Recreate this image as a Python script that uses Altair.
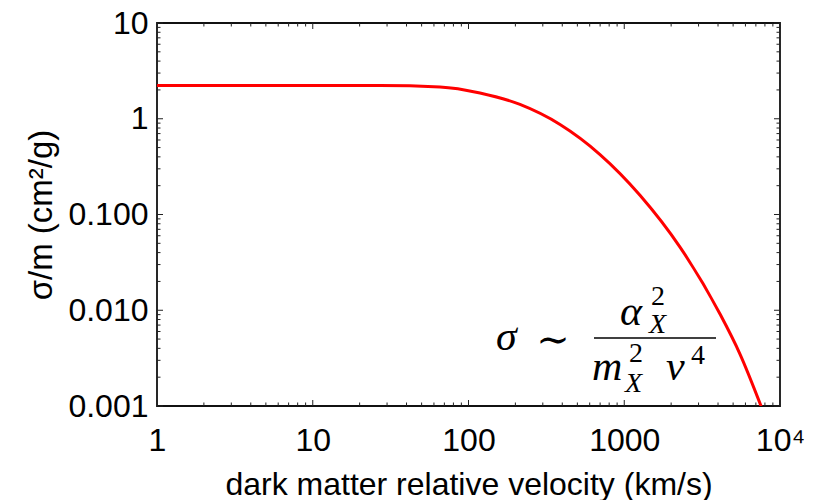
import altair as alt
import pandas as pd

# ---- data ----
velocity = [1, 10, 27, 65.6, 118.5, 214, 387, 699, 1262, 2280, 4119, 5534, 7597]
sigma = [2.22, 2.22, 2.22, 2.15, 1.86, 1.41, 0.871, 0.423, 0.159, 0.0457,
         0.00914, 0.00349, 0.000976]

x_major = [1, 10, 100, 1000, 10000]
y_major = [0.001, 0.01, 0.1, 1, 10]
x_minor = [m * d for d in [1, 10, 100, 1000] for m in range(2, 10)]
y_minor = [m * d for d in [0.001, 0.01, 0.1, 1] for m in range(2, 10)]

W, H = 623, 383
L, T = 157, 23

df = pd.DataFrame({"v": velocity, "s": sigma})
xs = alt.Scale(type="log", domain=[1, 10000], nice=False)
ys = alt.Scale(type="log", domain=[0.001, 10], nice=False)

FONT = "Liberation Sans"
MATH = "Liberation Serif, DejaVu Serif"

XENC = alt.X("v:Q", scale=xs, axis=alt.Axis(
    values=x_major, ticks=False, tickSize=0, domain=False, grid=False,
    labelFont=FONT, labelFontSize=32, labelColor="black",
    labelPadding=44, labelBaseline="alphabetic", labelFlush=False,
    labelExpr="datum.value == 10000 ? '10⁴' : format(datum.value, 'd')",
    title="dark matter relative velocity (km/s)", titleFont=FONT,
    titleFontSize=32, titleFontWeight="normal", titleColor="black",
    titleBaseline="alphabetic", titleY=88))
YENC = alt.Y("s:Q", scale=ys, axis=alt.Axis(
    values=y_major, ticks=False, tickSize=0, domain=False, grid=False,
    labelFont=FONT, labelFontSize=32, labelColor="black",
    labelPadding=9, labelFlush=False,
    labelExpr="datum.value >= 1 ? format(datum.value, 'd') : format(datum.value, '.3f')",
    title="σ/m (cm²/g)", titleFont=FONT, titleFontSize=33,
    titleFontWeight="normal", titleColor="black",
    titleBaseline="alphabetic", titleX=-106))

line = alt.Chart(df).mark_line(color="#ff0000", strokeWidth=3, clip=True,
                               interpolate="monotone").encode(x=XENC, y=YENC)

TICK = "#222"

def xticks(vals, length):
    d = pd.DataFrame({"v": vals})
    bot = alt.Chart(d).mark_rule(color=TICK, strokeWidth=1).encode(
        x=XENC, y=alt.value(H), y2=alt.value(H - length))
    top = alt.Chart(d).mark_rule(color=TICK, strokeWidth=1).encode(
        x=XENC, y=alt.value(0), y2=alt.value(length))
    return [bot, top]

def yticks(vals, length):
    d = pd.DataFrame({"s": vals})
    left = alt.Chart(d).mark_rule(color=TICK, strokeWidth=1).encode(
        y=YENC, x=alt.value(0), x2=alt.value(length))
    right = alt.Chart(d).mark_rule(color=TICK, strokeWidth=1).encode(
        y=YENC, x=alt.value(W), x2=alt.value(W - length))
    return [left, right]

ticks = xticks(x_major, 6) + xticks(x_minor, 3.5) + yticks(y_major, 6) + yticks(y_minor, 3.5)

def piece(text, px, py, size, italic=True, align="left", baseline="alphabetic"):
    return alt.Chart(pd.DataFrame({"a": [0]})).mark_text(
        text=text, font=MATH, fontSize=size, fontStyle="italic" if italic else "normal",
        align=align, baseline=baseline, color="black").encode(
        x=alt.value(px - L), y=alt.value(py - T))

formula = [
    piece("σ", 496, 350, 42),
    piece("∼", 553, 341, 40, italic=False, align="center", baseline="middle"),
    piece("α", 620, 325, 42),
    piece("2", 651, 305, 28, italic=False),
    piece("X", 649, 333, 28),
    alt.Chart(pd.DataFrame({"a": [0]})).mark_rule(color="black", strokeWidth=1.6).encode(
        x=alt.value(594 - L), x2=alt.value(716 - L), y=alt.value(338 - T)),
    piece("m", 592, 380, 42),
    piece("2", 629, 362, 28, italic=False),
    piece("X", 625, 392, 28),
    piece("v", 666, 380, 42),
    piece("4", 691, 364, 28, italic=False),
]

chart = alt.layer(line, *ticks, *formula).properties(
    width=W, height=H, background="white",
    autosize=alt.AutoSizeParams(type="none"),
    padding={"left": L, "top": T, "right": 821 - L - W, "bottom": 500 - T - H},
).configure_view(stroke="#111", strokeWidth=1.8)

chart.save("out.html", embed_options={"renderer": "svg", "actions": False})
